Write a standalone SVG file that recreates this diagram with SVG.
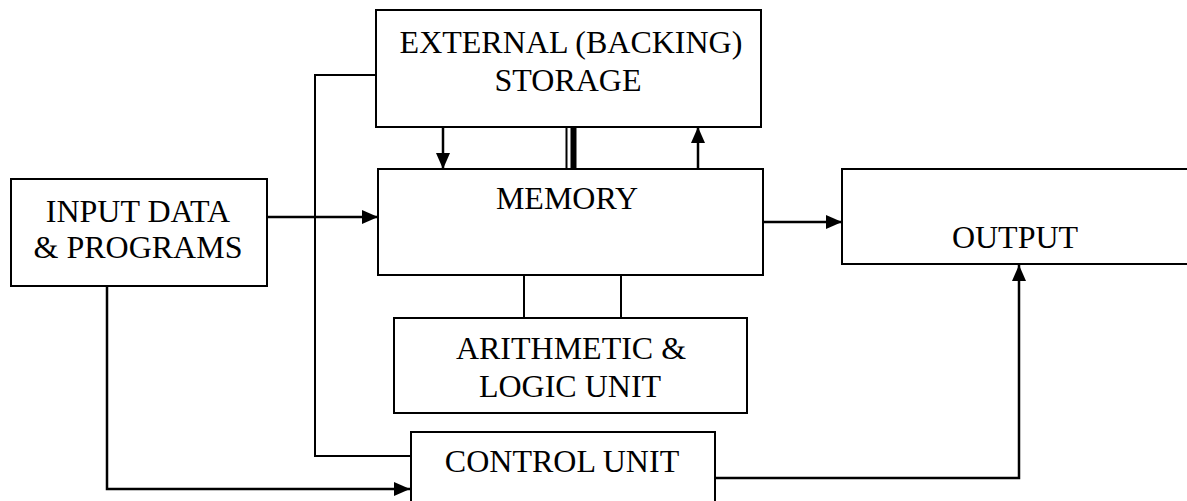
<svg xmlns="http://www.w3.org/2000/svg" width="1187" height="501" viewBox="0 0 1187 501">
<style>
.box{fill:#fff;stroke:#000;stroke-width:2}
.ln{fill:none;stroke:#000;stroke-width:2}
.ar{fill:none;stroke:#000;stroke-width:2.5}
</style>
<defs>
<marker id="ah" markerUnits="userSpaceOnUse" markerWidth="16" markerHeight="14" refX="16" refY="7" orient="auto">
<path d="M0,0 L16,7 L0,14 Z" fill="#000"/>
</marker>
</defs>
<g id="connectors">
<path class="ln" d="M378,75 H315 V456 H411"/>
<path class="ar" d="M107,286 V489 H410" marker-end="url(#ah)"/>
<path class="ar" d="M263,217 H378" marker-end="url(#ah)"/>
<path class="ar" d="M763,222 H842" marker-end="url(#ah)"/>
<path class="ar" d="M715,478 H1019 V265" marker-end="url(#ah)"/>
<path class="ar" d="M443,127 V169" marker-end="url(#ah)"/>
<path class="ar" d="M698,169 V127" marker-end="url(#ah)"/>
<line x1="566.5" y1="127" x2="566.5" y2="169" stroke="#000" stroke-width="2"/>
<line x1="573.5" y1="127" x2="573.5" y2="169" stroke="#000" stroke-width="6"/>
<path class="ln" d="M524,275 V318 M621,275 V318"/>
</g>
<g font-family="Liberation Serif, serif" font-size="32" text-anchor="middle" fill="#000">
<g id="external">
<rect class="box" x="376" y="10" width="385" height="117"/>
<text x="571" y="53">EXTERNAL (BACKING)</text>
<text x="568" y="91">STORAGE</text>
</g>
<g id="input">
<rect class="box" x="11" y="179" width="256" height="107"/>
<text x="138" y="222">INPUT DATA</text>
<text x="138" y="258">&amp; PROGRAMS</text>
</g>
<g id="memory">
<rect class="box" x="378" y="169" width="385" height="106"/>
<text x="567" y="209">MEMORY</text>
</g>
<g id="output">
<rect class="box" x="842" y="169" width="360" height="95"/>
<text x="1015" y="248">OUTPUT</text>
</g>
<g id="alu">
<rect class="box" x="394" y="318" width="353" height="95"/>
<text x="571" y="359">ARITHMETIC &amp;</text>
<text x="570" y="397">LOGIC UNIT</text>
</g>
<g id="control">
<rect class="box" x="411" y="432" width="304" height="80"/>
<text x="562" y="472">CONTROL UNIT</text>
</g>
</g>
</svg>
